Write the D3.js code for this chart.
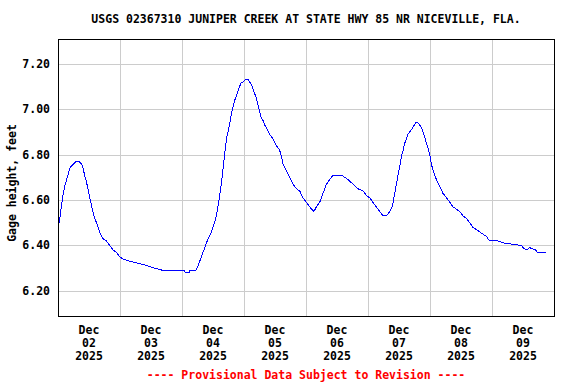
<!DOCTYPE html>
<html><head><meta charset="utf-8">
<script src="https://cdn.jsdelivr.net/npm/d3@7"></script>
<style>
html,body{margin:0;padding:0;background:#fff;}
text{font-family:"DejaVu Sans Mono",monospace;font-weight:bold;font-size:11.5px;}
</style></head>
<body><svg id="chart" width="576" height="384"></svg>
<script>
const titleText = "USGS 02367310 JUNIPER CREEK AT STATE HWY 85 NR NICEVILLE, FLA.";
const yAxisTitle = "Gage height, feet";
const footnote = "---- Provisional Data Subject to Revision ----";
const startDate = new Date(2025, 11, 2, 0, 0);
const endDate = new Date(2025, 11, 10, 0, 0);
const yTicks = [6.20, 6.40, 6.60, 6.80, 7.00, 7.20];
const xTickDays = [2, 3, 4, 5, 6, 7, 8, 9];
// hours since Dec 02 00:00
const hoursSinceStart = [0,0.7,1.3,1.9,2.6,3.3,3.9,4.5,5.2,6.1,6.9,8.1,9.1,9.7,10.3,11,11.6,12.3,12.9,13.5,14.2,14.9,15.5,16.1,17.4,18.7,20,21.3,22.6,23.9,25.2,27.8,31.6,34.8,37.4,40.6,49,49.2,50.8,51,53.3,54.2,55.5,56.8,58.1,59.4,60.3,61.3,61.9,62.6,63.3,63.9,64.5,65.2,65.8,66.5,67.1,67.7,68.4,69.1,69.7,70.3,71,71.6,72.5,73.6,74.2,74.9,75.5,76.1,76.8,77.4,78.1,78.7,79.4,80,80.7,81.9,83.2,84.5,85.8,86.5,87.1,88.4,89.7,91,92.3,93.6,94.8,96.2,97.4,99.1,100,101.3,102.6,103.9,105.2,106.5,109.7,111,112.3,114.2,116.1,118.1,119.4,120.7,121.9,123.2,124.5,125.8,127.1,128.4,129.4,130,131,131.6,132.3,132.9,133.6,134.2,134.9,135.5,136.1,136.8,137.4,138.4,139.4,140,140.7,141.3,141.9,142.6,143.2,143.9,144.5,145.2,145.8,146.5,147.8,149,150.4,151.7,152.9,154.2,155.5,156.8,158.1,159.4,160.6,162,163.2,164.5,165.8,167.1,170.3,172.9,179.4,180,181.3,182.6,184.9,185.4,189];
const gageHeight = [6.47,6.52,6.57,6.62,6.66,6.69,6.71,6.74,6.75,6.76,6.77,6.77,6.76,6.74,6.71,6.68,6.65,6.61,6.58,6.55,6.52,6.50,6.48,6.46,6.43,6.42,6.40,6.38,6.37,6.35,6.34,6.33,6.32,6.31,6.30,6.29,6.29,6.28,6.28,6.29,6.29,6.31,6.35,6.39,6.43,6.46,6.49,6.53,6.57,6.62,6.68,6.74,6.80,6.87,6.90,6.94,6.98,7.01,7.04,7.06,7.08,7.10,7.12,7.12,7.13,7.13,7.12,7.11,7.09,7.07,7.05,7.02,6.99,6.96,6.95,6.93,6.92,6.89,6.87,6.84,6.82,6.79,6.76,6.73,6.70,6.67,6.65,6.64,6.61,6.59,6.57,6.55,6.57,6.59,6.63,6.67,6.69,6.71,6.71,6.70,6.69,6.67,6.65,6.64,6.62,6.61,6.59,6.57,6.55,6.53,6.53,6.55,6.57,6.61,6.67,6.71,6.75,6.79,6.82,6.85,6.87,6.89,6.90,6.91,6.92,6.94,6.94,6.93,6.92,6.90,6.88,6.85,6.83,6.80,6.76,6.73,6.71,6.69,6.66,6.63,6.61,6.59,6.57,6.56,6.55,6.53,6.52,6.50,6.48,6.47,6.46,6.45,6.44,6.42,6.42,6.41,6.40,6.39,6.38,6.39,6.38,6.37,6.37];

const data = hoursSinceStart.map((h, i) => ({t: new Date(startDate.getTime() + h * 3600e3), v: gageHeight[i]}));

const svg = d3.select("#chart");
const L = 58, R = 554, T = 39, B = 316;
const x = d3.scaleTime().domain([startDate, endDate]).range([L, R]);
const y = d3.scaleLinear().domain([6.089, 7.31]).range([B, T]);

// grid
const dayLines = d3.timeDay.range(d3.timeDay.offset(startDate, 1), endDate);
svg.append("g").selectAll("line").data(dayLines).join("line")
  .attr("x1", d => Math.round(x(d)) + 0.5).attr("x2", d => Math.round(x(d)) + 0.5)
  .attr("y1", T).attr("y2", B).attr("stroke", "#cccccc").attr("stroke-width", 1);
svg.append("g").selectAll("line").data(yTicks).join("line")
  .attr("x1", L).attr("x2", R)
  .attr("y1", d => Math.round(y(d)) + 0.5).attr("y2", d => Math.round(y(d)) + 0.5)
  .attr("stroke", "#cccccc").attr("stroke-width", 1);

// line
const line = d3.line().x(d => x(d.t)).y(d => y(d.v)).curve(d3.curveLinear);
svg.append("path").datum(data).attr("d", line)
  .attr("fill", "none").attr("stroke", "#0000ff").attr("stroke-width", 1)
  .attr("shape-rendering", "crispEdges");

// frame
svg.append("rect").attr("x", L + 0.5).attr("y", T + 0.5).attr("width", R - L).attr("height", B - T)
  .attr("fill", "none").attr("stroke", "#000").attr("stroke-width", 1);

// y tick labels
svg.append("g").selectAll("text").data(yTicks).join("text")
  .attr("x", 50).attr("y", d => y(d) + 4).attr("text-anchor", "end")
  .text(d => d.toFixed(2));

// x tick labels
const xl = svg.append("g").selectAll("g").data(xTickDays).join("g")
  .attr("transform", d => `translate(${x(new Date(2025, 11, d, 12))},0)`);
xl.append("text").attr("y", 334).attr("text-anchor", "middle").text("Dec");
xl.append("text").attr("y", 347).attr("text-anchor", "middle").text(d => String(d).padStart(2, "0"));
xl.append("text").attr("y", 360).attr("text-anchor", "middle").text("2025");

// title
svg.append("text").attr("x", 306).attr("y", 23).attr("text-anchor", "middle").text(titleText);
// y axis title
svg.append("text").attr("transform", "translate(16,183) rotate(-90)").attr("text-anchor", "middle").text(yAxisTitle);
// footnote
svg.append("text").attr("x", 306).attr("y", 379).attr("text-anchor", "middle").attr("fill", "#ff0000").text(footnote);
</script></body></html>
